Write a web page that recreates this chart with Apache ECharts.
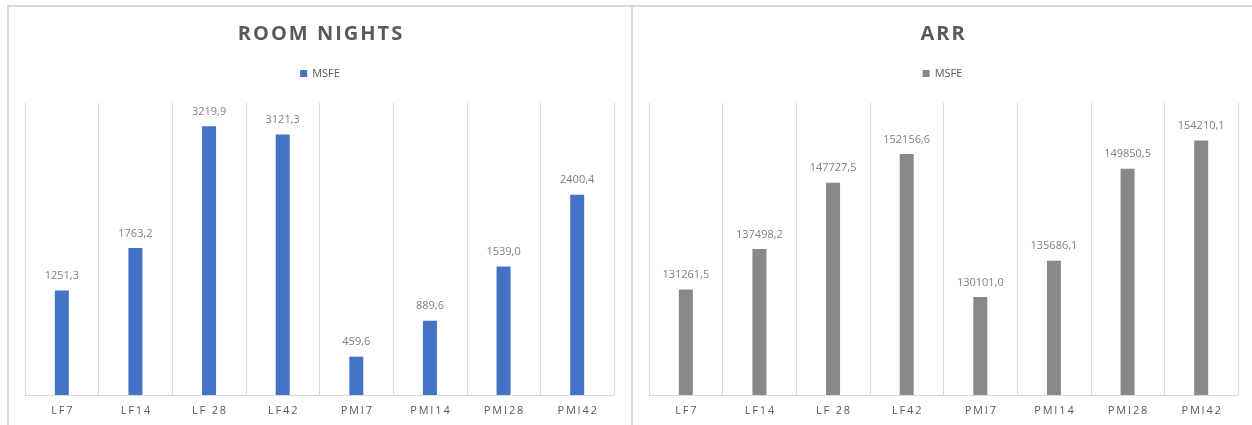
<!DOCTYPE html>
<html lang="en">
<head>
    <meta charset="UTF-8">
    <title>MSFE</title>
    <style>
        body { margin: 0; background: #fff; }
        .panel {
            position: absolute; top: 5px; height: 420px;
            border-left: 2px solid #d9d9d9; border-top: 2px solid #d9d9d9;
            box-sizing: border-box;
        }
    </style>
</head>
<body>
    <div id="roomDiv" class="panel" style="left:7px;width:624px;"></div>
    <div id="arrDiv" class="panel" style="left:631px;width:621px;"></div>
</body>
<script type="text/javascript" src="https://cdn.jsdelivr.net/npm/echarts@6/dist/echarts.min.js"></script>
<script type="text/javascript">
    // categories and values
    var categories = ['LF7', 'LF14', 'LF 28', 'LF42', 'PMI7', 'PMI14', 'PMI28', 'PMI42'];
    var roomNights = [1251.3, 1763.2, 3219.9, 3121.3, 459.6, 889.6, 1539.0, 2400.4];
    var arrValues = [131261.5, 137498.2, 147727.5, 152156.6, 130101.0, 135686.1, 149850.5, 154210.1];

    // spaced letters like the original (Excel tracking)
    function spaced(s, sep) {
        return s.split('').join(sep);
    }

    function makeChart(el, title, data, color, yMin, yMax, gridLeft) {
        var chart = echarts.init(document.getElementById(el));
        chart.setOption({
            animation: false,
            title: {
                text: spaced(title, '\u200A'),
                left: 'center',
                top: 12,
                textStyle: {
                    fontFamily: 'Open Sans',
                    fontSize: 20,
                    fontWeight: 'bold',
                    color: '#595959'
                }
            },
            legend: {
                data: ['MSFE'],
                left: 'center',
                top: 56,
                icon: 'rect',
                itemWidth: 7,
                itemHeight: 7,
                itemGap: 4,
                textStyle: { fontFamily: 'Open Sans', fontSize: 11, color: '#595959' }
            },
            grid: { left: gridLeft, top: 96, width: 589, height: 292 },
            xAxis: {
                type: 'category',
                data: categories,
                axisLine: { lineStyle: { color: '#d9d9d9', width: 1 } },
                axisTick: { show: false },
                splitLine: { show: true, lineStyle: { color: '#d9d9d9' } },
                axisLabel: {
                    margin: 10,
                    fontFamily: 'Open Sans',
                    fontSize: 11,
                    color: '#595959',
                    formatter: function (v) { return spaced(v, '\u2009'); }
                }
            },
            yAxis: {
                type: 'value',
                min: yMin,
                max: yMax,
                show: false,
                splitLine: { show: false }
            },
            series: [{
                name: 'MSFE',
                type: 'bar',
                data: data,
                barWidth: 14,
                itemStyle: { color: color },
                label: {
                    show: true,
                    position: 'top',
                    distance: 9,
                    fontFamily: 'Open Sans',
                    fontSize: 11,
                    color: '#7f7f7f',
                    formatter: function (p) { return p.value.toFixed(1).replace('.', ','); }
                }
            }]
        });
    }

    makeChart('roomDiv', 'ROOM NIGHTS', roomNights, '#4472C4', 0, 3500, 16);
    makeChart('arrDiv', 'ARR', arrValues, '#888888', 115000, 160000, 16);
</script>
</html>
